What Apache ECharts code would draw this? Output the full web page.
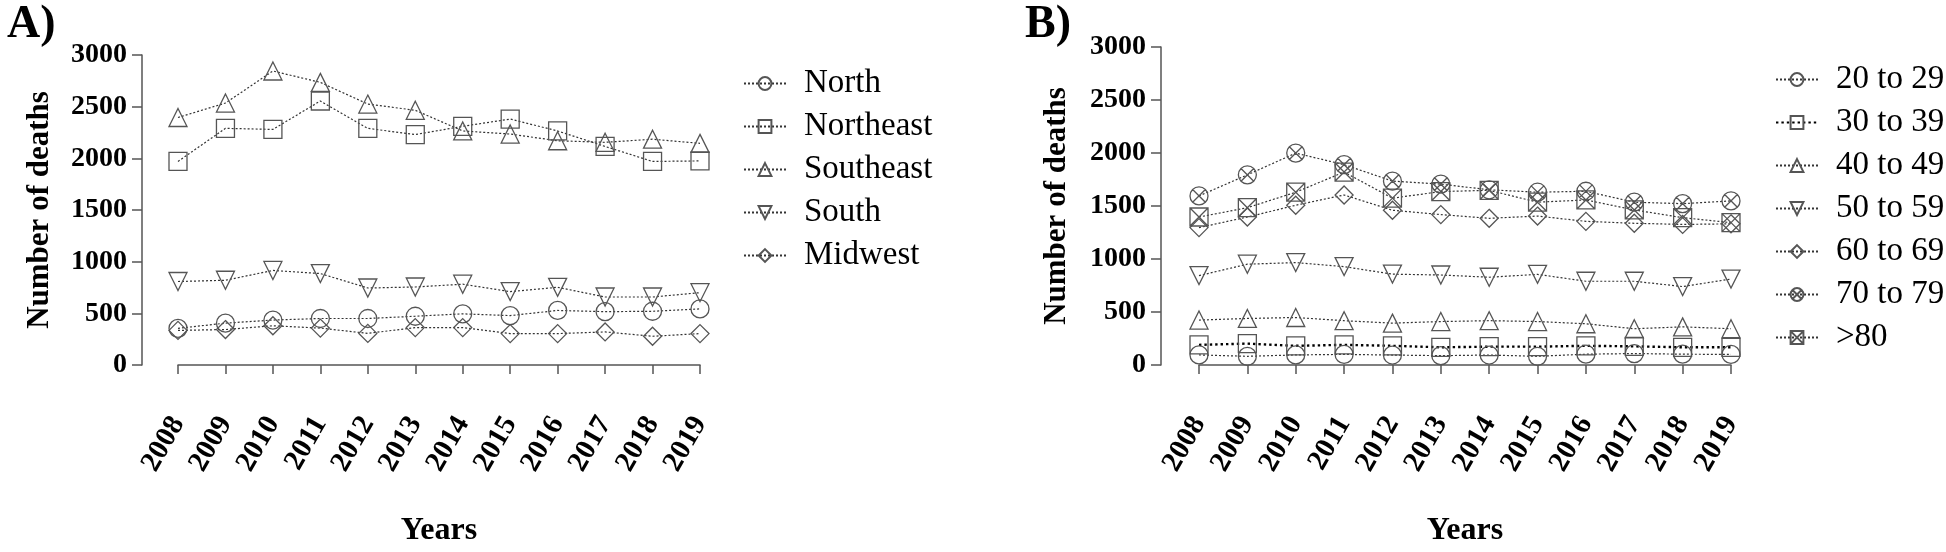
<!DOCTYPE html>
<html>
<head>
<meta charset="utf-8">
<script src="https://cdn.jsdelivr.net/npm/echarts@6/dist/echarts.min.js"></script>
<style>html,body{margin:0;padding:0;background:#fff}#c{width:1946px;height:552px}</style>
</head>
<body>
<div id="c"></div>
<script>
// ---- data ----
const years = ['2008','2009','2010','2011','2012','2013','2014','2015','2016','2017','2018','2019'];
const yTicks = [0, 500, 1000, 1500, 2000, 2500, 3000];

const regionNames = ['North', 'Northeast', 'Southeast', 'South', 'Midwest'];
const north     = [355, 405, 435, 450, 450, 472, 495, 478, 528, 516, 520, 543];
const northeast = [1970, 2290, 2280, 2555, 2290, 2230, 2310, 2380, 2265, 2115, 1970, 1975];
const southeast = [2395, 2535, 2845, 2735, 2525, 2465, 2265, 2235, 2170, 2155, 2185, 2145];
const south     = [808, 820, 915, 885, 745, 755, 782, 710, 752, 658, 658, 700];
const midwest   = [335, 343, 380, 357, 306, 362, 362, 304, 304, 320, 278, 304];

const ageNames = ['20 to 29', '30 to 39', '40 to 49', '50 to 59', '60 to 69', '70 to 79', '>80'];
const age20 = [95, 82, 95, 100, 94, 88, 94, 82, 102, 108, 102, 100];
const age30 = [190, 202, 181, 190, 181, 167, 173, 173, 181, 176, 167, 167];
const age40 = [424, 439, 448, 418, 395, 410, 418, 410, 389, 342, 360, 342];
const age50 = [843, 951, 966, 928, 857, 849, 828, 855, 790, 790, 740, 811];
const age60 = [1296, 1396, 1507, 1604, 1460, 1419, 1384, 1405, 1355, 1337, 1326, 1332];
const age70 = [1595, 1794, 1999, 1890, 1735, 1706, 1653, 1630, 1639, 1536, 1522, 1548];
const age80 = [1396, 1484, 1630, 1820, 1574, 1636, 1648, 1536, 1557, 1463, 1390, 1343];

// ---- styling ----
const FONT = 'Liberation Serif';
const SYM = {
  circle: 'circle',
  square: 'rect',
  up: 'triangle',
  down: 'path://M0,0 L20,0 L10,17 Z',
  diamond: 'diamond',
  circleX: 'path://M10,0 A10,10 0 1,1 10,20 A10,10 0 1,1 10,0 Z M2.93,2.93 L17.07,17.07 M17.07,2.93 L2.93,17.07',
  squareX: 'path://M0,0 L20,0 L20,20 L0,20 Z M0,0 L20,20 M20,0 L0,20'
};

function series(name, data, sym, idx, opts) {
  opts = opts || {};
  return {
    name: name, type: 'line', data: data,
    xAxisIndex: idx, yAxisIndex: idx,
    symbol: SYM[sym], symbolSize: opts.size || 18,
    showAllSymbol: true,
    lineStyle: { color: opts.lineColor || '#333', width: opts.lineWidth || 1.2, type: opts.dash || [2, 2] },
    itemStyle: { color: 'rgba(0,0,0,0)', borderColor: '#555', borderWidth: 1.3 },
    emphasis: { disabled: true },
    z: 3
  };
}

function xAxis(idx) {
  return {
    type: 'category', gridIndex: idx, data: years, boundaryGap: false,
    offset: 38,
    axisLine: { lineStyle: { color: '#555', width: 1.5 } },
    axisTick: { alignWithLabel: true, length: 9, lineStyle: { color: '#555', width: 1.5 } },
    axisLabel: { rotate: 60, margin: 16, color: '#000', fontFamily: FONT, fontWeight: 'bold', fontSize: 29, interval: 0 },
    name: 'Years', nameLocation: 'middle', nameGap: 112,
    nameTextStyle: { color: '#000', fontFamily: FONT, fontWeight: 'bold', fontSize: 32 },
    splitLine: { show: false }
  };
}

function yAxis(idx, offset, nameCenter) {
  return {
    type: 'value', gridIndex: idx, min: yTicks[0], max: yTicks[yTicks.length - 1], interval: yTicks[1] - yTicks[0],
    offset: offset,
    axisLine: { show: true, lineStyle: { color: '#555', width: 1.5 } },
    axisTick: { show: true, length: 10, lineStyle: { color: '#555', width: 1.5 } },
    axisLabel: { margin: 15, color: '#000', fontFamily: FONT, fontWeight: 'bold', fontSize: 28, formatter: function (v) { return String(v); } },
    splitLine: { show: false },
    name: 'Number of deaths', nameLocation: 'middle', nameGap: nameCenter,
    nameTextStyle: { color: '#000', fontFamily: FONT, fontWeight: 'bold', fontSize: 31 }
  };
}

function legend(names, left, top) {
  return {
    data: names, orient: 'vertical', left: left, top: top,
    itemWidth: 42, itemHeight: 16, itemGap: 10,
    selectedMode: false,
    textStyle: { color: '#000', fontFamily: FONT, fontSize: 33, lineHeight: 33, padding: [0, 0, 0, 13] }
  };
}

const chart = echarts.init(document.getElementById('c'), null, { renderer: 'canvas' });
chart.setOption({
  backgroundColor: '#fff',
  animation: false,
  title: [
    { text: 'A)', left: 2, top: -3, textStyle: { fontFamily: FONT, fontWeight: 'bold', fontSize: 46, color: '#000' } },
    { text: 'B)', left: 1020, top: -3, textStyle: { fontFamily: FONT, fontWeight: 'bold', fontSize: 46, color: '#000' } }
  ],
  grid: [
    { left: 178, top: 55, width: 522, height: 335 },
    { left: 1199, top: 47, width: 532, height: 343 }
  ],
  xAxis: [xAxis(0), xAxis(1)],
  yAxis: [yAxis(0, 36, 87), yAxis(1, 38, 89)],
  legend: [legend(regionNames, 738, 62), legend(ageNames, 1770, 58)],
  series: [
    series(regionNames[0], north, 'circle', 0),
    series(regionNames[1], northeast, 'square', 0),
    series(regionNames[2], southeast, 'up', 0),
    series(regionNames[3], south, 'down', 0),
    series(regionNames[4], midwest, 'diamond', 0),
    series(ageNames[0], age20, 'circle', 1),
    series(ageNames[1], age30, 'square', 1, { lineColor: '#000', lineWidth: 2.4, dash: [2.4, 3] }),
    series(ageNames[2], age40, 'up', 1),
    series(ageNames[3], age50, 'down', 1),
    series(ageNames[4], age60, 'diamond', 1),
    series(ageNames[5], age70, 'circleX', 1),
    series(ageNames[6], age80, 'squareX', 1)
  ]
});
</script>
</body>
</html>
